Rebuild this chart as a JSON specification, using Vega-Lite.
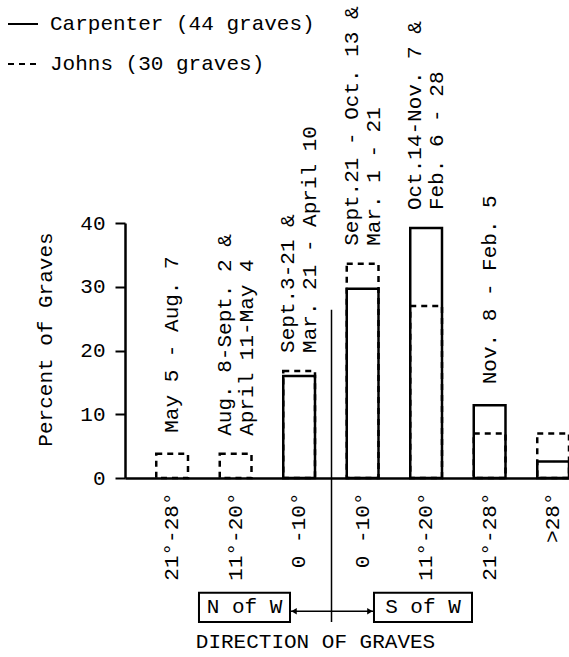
{
  "$schema": "https://vega.github.io/schema/vega-lite/v6.json",
  "width": 444,
  "height": 255,
  "autosize": {"type": "none"},
  "padding": {"left": 125, "top": 223, "right": 0, "bottom": 179},
  "background": "white",
  "config": {
    "view": {"stroke": null},
    "font": "Liberation Mono",
    "axis": {"labelFont": "Liberation Mono", "titleFont": "Liberation Mono", "labelColor": "black", "titleColor": "black", "titleFontWeight": "normal", "labelFontSize": 21, "titleFontSize": 21, "grid": false, "domainColor": "black", "tickColor": "black", "labelLimit": 0},
    "legend": {"labelFont": "Liberation Mono", "labelFontSize": 21, "labelColor": "black", "labelLimit": 0}
  },
  "datasets": {
    "bars": [
      {"dir": "21°-28°|N", "series": "Johns (30 graves)", "pct": 3.8},
      {"dir": "11°-20°|N", "series": "Johns (30 graves)", "pct": 3.8},
      {"dir": "0 -10°|N", "series": "Johns (30 graves)", "pct": 16.8},
      {"dir": "0 -10°|S", "series": "Johns (30 graves)", "pct": 33.6},
      {"dir": "11°-20°|S", "series": "Johns (30 graves)", "pct": 27},
      {"dir": "21°-28°|S", "series": "Johns (30 graves)", "pct": 7},
      {"dir": ">28°|S", "series": "Johns (30 graves)", "pct": 7},
      {"dir": "0 -10°|N", "series": "Carpenter (44 graves)", "pct": 16},
      {"dir": "0 -10°|S", "series": "Carpenter (44 graves)", "pct": 29.7},
      {"dir": "11°-20°|S", "series": "Carpenter (44 graves)", "pct": 39.2},
      {"dir": "21°-28°|S", "series": "Carpenter (44 graves)", "pct": 11.4},
      {"dir": ">28°|S", "series": "Carpenter (44 graves)", "pct": 2.6}
    ],
    "notes": [
      {"dir": "21°-28°|N", "note": ["May 5 - Aug. 7"]},
      {"dir": "11°-20°|N", "note": ["Aug. 8-Sept. 2 &", "April 11-May 4"]},
      {"dir": "0 -10°|N", "note": ["Sept.3-21 &", "Mar. 21 - April 10"]},
      {"dir": "0 -10°|S", "note": ["Sept.21 - Oct. 13 &", "Mar. 1 - 21"]},
      {"dir": "11°-20°|S", "note": ["Oct.14-Nov. 7 &", "Feb. 6 - 28"]},
      {"dir": "21°-28°|S", "note": ["Nov. 8 - Feb. 5"]}
    ]
  },
  "layer": [
    {
      "data": {"name": "bars"},
      "mark": {"type": "bar", "filled": false, "color": "black", "strokeWidth": 2.5},
      "encoding": {
        "x": {
          "field": "dir", "type": "nominal",
          "scale": {"domain": ["21°-28°|N", "11°-20°|N", "0 -10°|N", "0 -10°|S", "11°-20°|S", "21°-28°|S", ">28°|S"], "paddingInner": 0.5, "paddingOuter": 0.246, "align": 1},
          "axis": {"title": "DIRECTION OF GRAVES", "labelExpr": "split(datum.label, '|')[0]", "labelAngle": 270, "labelAlign": "right", "labelBaseline": "middle", "ticks": false, "tickSize": 0, "labelPadding": 14, "domainWidth": 2.5, "titleX": 190, "titleY": 163, "titleAlign": "center", "titleBaseline": "middle", "titleAnchor": null}
        },
        "y": {
          "field": "pct", "type": "quantitative", "stack": null,
          "scale": {"domain": [0, 40], "nice": false, "zero": true},
          "axis": {"title": "Percent of Graves", "values": [0, 5, 10, 15, 20, 25, 30, 35, 40], "labelExpr": "datum.value % 10 == 0 ? datum.label : ''", "tickSize": 10, "tickWidth": 2, "domainWidth": 2.5, "labelPadding": 10, "titleAngle": 270, "titleX": -80, "titleY": 116, "titleAlign": "center", "titleBaseline": "middle"}
        },
        "strokeDash": {
          "field": "series", "type": "nominal",
          "scale": {"domain": ["Carpenter (44 graves)", "Johns (30 graves)"], "range": [[1, 0], [6, 5]]},
          "legend": {"title": null, "orient": "none", "legendX": -118, "legendY": -215, "symbolType": "stroke", "symbolSize": 900, "symbolStrokeColor": "black", "symbolStrokeWidth": 2, "rowPadding": 14, "labelOffset": 11}
        }
      }
    },
    {
      "data": {"name": "bars"},
      "transform": [
        {"aggregate": [{"op": "max", "field": "pct", "as": "top"}], "groupby": ["dir"]},
        {"lookup": "dir", "from": {"data": {"name": "notes"}, "key": "dir", "fields": ["note"]}},
        {"filter": "isValid(datum.note) && length(datum.note) == 1"}
      ],
      "mark": {"type": "text", "angle": 270, "align": "left", "baseline": "middle", "dx": 21, "font": "Liberation Mono", "fontSize": 21, "lineHeight": 22, "color": "black"},
      "encoding": {
        "x": {"field": "dir", "type": "nominal"},
        "y": {"field": "top", "type": "quantitative"},
        "text": {"field": "note"}
      }
    },
    {
      "data": {"name": "bars"},
      "transform": [
        {"aggregate": [{"op": "max", "field": "pct", "as": "top"}], "groupby": ["dir"]},
        {"lookup": "dir", "from": {"data": {"name": "notes"}, "key": "dir", "fields": ["note"]}},
        {"filter": "isValid(datum.note) && length(datum.note) == 2"}
      ],
      "mark": {"type": "text", "angle": 270, "align": "left", "baseline": "middle", "dx": 18, "dy": -11, "font": "Liberation Mono", "fontSize": 21, "lineHeight": 22, "color": "black"},
      "encoding": {
        "x": {"field": "dir", "type": "nominal"},
        "y": {"field": "top", "type": "quantitative"},
        "text": {"field": "note"}
      }
    },
    {
      "data": {"values": [{}]},
      "mark": {"type": "rule", "color": "black", "strokeWidth": 1.5},
      "encoding": {
        "x": {"datum": "0 -10°|N", "type": "nominal", "bandPosition": 1.52},
        "y": {"datum": 26.4, "type": "quantitative"},
        "y2": {"datum": -22.6}
      }
    },
    {
      "data": {"values": [{}]},
      "mark": {"type": "rule", "color": "black", "strokeWidth": 1.5},
      "encoding": {
        "x": {"datum": "0 -10°|N", "type": "nominal", "bandPosition": 0.213},
        "x2": {"datum": "0 -10°|S", "bandPosition": 0.858},
        "y": {"datum": -20.9, "type": "quantitative"}
      }
    },
    {
      "data": {"values": [{}]},
      "mark": {"type": "point", "shape": "triangle-left", "filled": true, "color": "black", "size": 40, "opacity": 1},
      "encoding": {
        "x": {"datum": "0 -10°|N", "type": "nominal", "bandPosition": 0.34},
        "y": {"datum": -20.9, "type": "quantitative"}
      }
    },
    {
      "data": {"values": [{}]},
      "mark": {"type": "point", "shape": "triangle-right", "filled": true, "color": "black", "size": 40, "opacity": 1},
      "encoding": {
        "x": {"datum": "0 -10°|S", "type": "nominal", "bandPosition": 0.73},
        "y": {"datum": -20.9, "type": "quantitative"}
      }
    },
    {
      "data": {"values": [{}]},
      "mark": {"type": "rect", "filled": false, "color": "black", "strokeWidth": 2},
      "encoding": {
        "x": {"datum": "11°-20°|N", "type": "nominal", "bandPosition": -0.654},
        "x2": {"datum": "0 -10°|N", "bandPosition": 0.213},
        "y": {"datum": -18.0, "type": "quantitative"},
        "y2": {"datum": -22.6}
      }
    },
    {
      "data": {"values": [{}]},
      "mark": {"type": "rect", "filled": false, "color": "black", "strokeWidth": 2},
      "encoding": {
        "x": {"datum": "0 -10°|S", "type": "nominal", "bandPosition": 0.858},
        "x2": {"datum": "11°-20°|S", "bandPosition": 1.945},
        "y": {"datum": -18.0, "type": "quantitative"},
        "y2": {"datum": -22.6}
      }
    },
    {
      "data": {"values": [{}]},
      "mark": {"type": "text", "font": "Liberation Mono", "fontSize": 21, "color": "black", "align": "center", "baseline": "middle"},
      "encoding": {
        "x": {"datum": "11°-20°|N", "type": "nominal", "bandPosition": 0.78},
        "y": {"datum": -20.3, "type": "quantitative"},
        "text": {"value": "N of W"}
      }
    },
    {
      "data": {"values": [{}]},
      "mark": {"type": "text", "font": "Liberation Mono", "fontSize": 21, "color": "black", "align": "center", "baseline": "middle"},
      "encoding": {
        "x": {"datum": "11°-20°|S", "type": "nominal", "bandPosition": 0.4},
        "y": {"datum": -20.3, "type": "quantitative"},
        "text": {"value": "S of W"}
      }
    }
  ]
}
